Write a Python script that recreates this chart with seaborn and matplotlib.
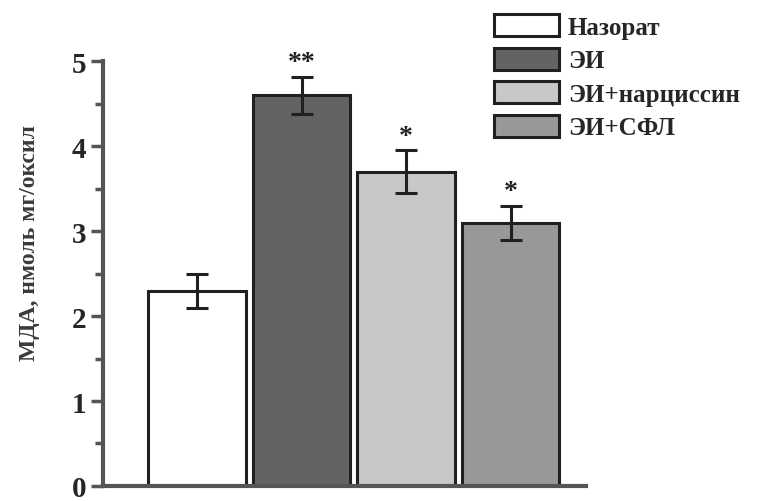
import matplotlib
matplotlib.use("Agg")
import matplotlib.pyplot as plt
import seaborn as sns
import pandas as pd
from matplotlib.ticker import MultipleLocator
from matplotlib.patches import Patch

groups = ["Назорат", "ЭИ", "ЭИ+нарциссин", "ЭИ+СФЛ"]
values = [2.3, 4.6, 3.7, 3.1]
errors = [0.2, 0.22, 0.25, 0.2]
stars = ["", "**", "*", "*"]
colors = ["#ffffff", "#636365", "#c8c8ca", "#98989a"]
ylabel = "МДА, нмоль мг/оксил"

sns.set_style("white")
plt.rcParams["font.family"] = ["Liberation Serif", "DejaVu Serif"]

df = pd.DataFrame({"group": groups, "value": values})

fig = plt.figure(figsize=(7.67, 5.02), dpi=100)
ax = fig.add_axes([0.134, 0.03, 0.63, 0.846])

sns.barplot(data=df, x="group", y="value", hue="group", palette=colors,
            dodge=False, width=0.93, edgecolor="#231f20", linewidth=2.2,
            legend=False, ax=ax, errorbar=None)

xs = list(range(len(groups)))
ax.errorbar(xs, values, yerr=errors, fmt="none", ecolor="#231f20",
            elinewidth=2.2, capsize=8, capthick=2.2, zorder=5)
for x, v, e, s in zip(xs, values, errors, stars):
    if s:
        ax.text(x, v + e + 0.02, s, ha="center", va="bottom",
                fontsize=20, fontweight="bold", color="#231f20")

ax.set_xlim(-0.9, 3.72)
ax.set_ylim(0, 5)
ax.yaxis.set_major_locator(MultipleLocator(1))
ax.yaxis.set_minor_locator(MultipleLocator(0.5))
ax.tick_params(axis="y", which="major", direction="out", length=9, width=2.5,
               color="#555555", labelsize=21, pad=3, left=True)
ax.tick_params(axis="y", which="minor", direction="out", length=6, width=2.5,
               color="#555555", left=True)
for lab in ax.get_yticklabels():
    lab.set_fontweight("bold")
ax.set_xticks([])
ax.set_xlabel("")
ax.set_ylabel(ylabel, fontsize=17, fontweight="bold", color="#3a3a3a")
ax.yaxis.set_label_coords(-0.13, 0.575)
for side in ["top", "right"]:
    ax.spines[side].set_visible(False)
for side in ["left", "bottom"]:
    ax.spines[side].set_linewidth(3)
    ax.spines[side].set_color("#555555")
ax.spines["left"].set_zorder(6)

handles = [Patch(facecolor=c, edgecolor="#231f20", linewidth=2.2) for c in colors]
leg = fig.legend(handles, groups, loc="upper left", bbox_to_anchor=(0.625, 1.0),
                 frameon=False, prop={"size": 18, "weight": "bold"},
                 handlelength=2.6, handleheight=1.0, handletextpad=0.35,
                 labelspacing=0.35, borderaxespad=0.2)

fig.savefig("out.png", dpi=100)
